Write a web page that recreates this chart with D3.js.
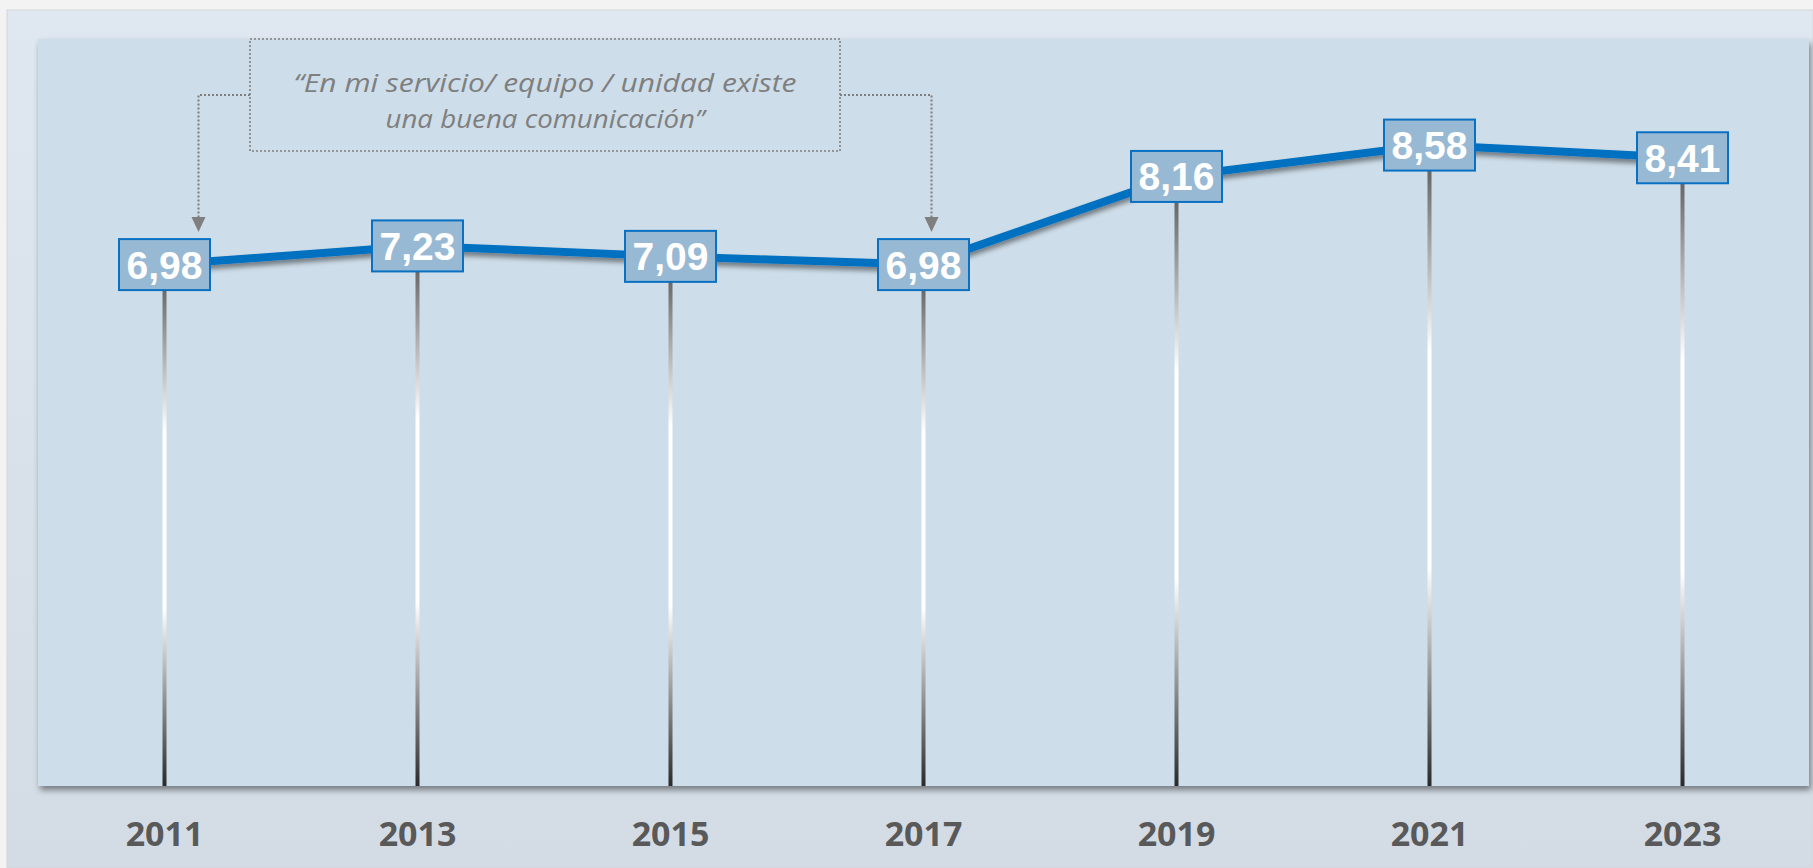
<!DOCTYPE html>
<html>
<head>
<meta charset="utf-8">
<script src="https://cdn.jsdelivr.net/npm/d3@7"></script>
<style>
  html, body { margin: 0; padding: 0; background: #f3f3f3; overflow: hidden; }
  svg { display: block; }
</style>
</head>
<body>
<svg id="chart"></svg>
<script>
// data
const years = ["2011", "2013", "2015", "2017", "2019", "2021", "2023"];
const values = [6.98, 7.23, 7.09, 6.98, 8.16, 8.58, 8.41];
const yDomain = [0, 10];
const quoteLines = ["\u201CEn mi servicio/ equipo / unidad existe", "una buena comunicaci\u00F3n\u201D"];
const arrowYears = ["2011", "2017"];

const W = 1813, H = 868;
const margin = { top: 39, left: 38, right: 4, bottom: 82 };
const width = W - margin.left - margin.right;
const height = H - margin.top - margin.bottom;

const comma = d3.formatLocale({ decimal: ",", thousands: ".", grouping: [3], currency: ["", "€"] }).format(".2f");

const svg = d3.select("#chart").attr("width", W).attr("height", H);
const defs = svg.append("defs");

// outer panel gradient
const panelGrad = defs.append("linearGradient").attr("id", "panelGrad")
    .attr("x1", 0).attr("y1", 0).attr("x2", 0).attr("y2", 1);
panelGrad.append("stop").attr("offset", 0).attr("stop-color", "#dfe8f1");
panelGrad.append("stop").attr("offset", 1).attr("stop-color", "#d3dce5");

// stem gradient (dark -> white -> dark)
const stemGrad = defs.append("linearGradient").attr("id", "stemGrad")
    .attr("x1", 0).attr("y1", 0).attr("x2", 0).attr("y2", 1);
[[0, "#4f4f4f"], [0.32, "#ffffff"], [0.66, "#ffffff"], [1, "#2a2a2a"]].forEach(s =>
  stemGrad.append("stop").attr("offset", s[0]).attr("stop-color", s[1]));

const plotShadow = defs.append("filter").attr("id", "plotShadow")
    .attr("x", "-5%").attr("y", "-5%").attr("width", "110%").attr("height", "115%");
plotShadow.append("feDropShadow").attr("dx", 2).attr("dy", 4).attr("stdDeviation", 3)
    .attr("flood-color", "#000").attr("flood-opacity", 0.45);

const lineShadow = defs.append("filter").attr("id", "lineShadow")
    .attr("x", "-5%").attr("y", "-20%").attr("width", "110%").attr("height", "160%");
lineShadow.append("feDropShadow").attr("dx", 0).attr("dy", 4).attr("stdDeviation", 2.5)
    .attr("flood-color", "#000").attr("flood-opacity", 0.45);

// backgrounds
svg.append("rect").attr("x", 7).attr("y", 10).attr("width", W - 7).attr("height", H - 10)
    .attr("fill", "url(#panelGrad)").attr("stroke", "#d6d6d6");

svg.append("rect")
    .attr("x", margin.left).attr("y", margin.top)
    .attr("width", width).attr("height", height)
    .attr("fill", "#cddde9")
    .attr("filter", "url(#plotShadow)");

const chart = svg.append("g").attr("transform", `translate(${margin.left},${margin.top})`);

// scales
const xScale = d3.scaleBand().domain(years).range([0, width]).padding(0);
const yScale = d3.scaleLinear().domain(yDomain).range([height, 0]);
const cx = d => xScale(d) + xScale.bandwidth() / 2;

const points = years.map((y, i) => ({ year: y, value: values[i] }));

// stems
chart.selectAll(".stem")
  .data(points)
  .join("rect")
    .attr("class", "stem")
    .attr("x", d => cx(d.year) - 2)
    .attr("y", d => yScale(d.value))
    .attr("width", 4)
    .attr("height", d => height - yScale(d.value))
    .attr("fill", "url(#stemGrad)");

// line
const line = d3.line().x(d => cx(d.year)).y(d => yScale(d.value));
chart.append("path")
    .datum(points)
    .attr("d", line)
    .attr("fill", "none")
    .attr("stroke", "#0070c0")
    .attr("stroke-width", 8)
    .attr("filter", "url(#lineShadow)");

// value boxes
const boxW = 91, boxH = 51;
const labels = chart.selectAll(".lbl")
  .data(points)
  .join("g")
    .attr("class", "lbl")
    .attr("transform", d => `translate(${cx(d.year)},${yScale(d.value)})`);

labels.append("rect")
    .attr("x", -boxW / 2).attr("y", -boxH / 2)
    .attr("width", boxW).attr("height", boxH)
    .attr("fill", "#98b9d4")
    .attr("stroke", "#0a70c2")
    .attr("stroke-width", 2);

labels.append("text")
    .attr("text-anchor", "middle")
    .attr("dy", "0.36em")
    .style("font-family", "'Liberation Sans', Arial, sans-serif")
    .style("font-weight", "bold")
    .style("font-size", "39px")
    .attr("fill", "#ffffff")
    .text(d => comma(d.value));

// x axis (year labels)
const xAxisG = chart.append("g")
    .attr("transform", `translate(0,${height})`)
    .call(d3.axisBottom(xScale).tickSize(0).tickPadding(0));
xAxisG.select(".domain").remove();
xAxisG.selectAll("text")
    .attr("y", 60)
    .attr("dy", 0)
    .style("font-family", "'Open Sans', sans-serif")
    .style("font-weight", "bold")
    .style("font-size", "34px")
    .attr("fill", "#595959");

// annotation box
const note = { x: 212, y: 0, w: 590, h: 112, join: 56 };
chart.append("rect")
    .attr("x", note.x).attr("y", note.y)
    .attr("width", note.w).attr("height", note.h)
    .attr("fill", "none")
    .attr("stroke", "#7f7f7f")
    .attr("stroke-width", 1.6)
    .attr("stroke-dasharray", "2,2");

const quoteWidths = [503, 319];
chart.selectAll(".quote")
  .data(quoteLines)
  .join("text")
    .attr("class", "quote")
    .attr("x", note.x + note.w / 2)
    .attr("y", (d, i) => 53 + i * 36)
    .attr("text-anchor", "middle")
    .attr("textLength", (d, i) => quoteWidths[i])
    .attr("lengthAdjust", "spacingAndGlyphs")
    .style("font-family", "'Open Sans', sans-serif")
    .style("font-style", "italic")
    .style("font-size", "26px")
    .attr("fill", "#7f7f7f")
    .text(d => d);

// dotted connectors with arrowheads
const arrowOffsets = [34, 8];
arrowYears.forEach((yr, i) => {
  const v = values[years.indexOf(yr)];
  const ax = cx(yr) + arrowOffsets[i];
  const tipY = yScale(v) - boxH / 2 - 7;
  const startX = i === 0 ? note.x : note.x + note.w;
  chart.append("path")
      .attr("d", `M${startX},${note.join}H${ax}V${tipY - 14}`)
      .attr("fill", "none")
      .attr("stroke", "#7f7f7f")
      .attr("stroke-width", 2)
      .attr("stroke-dasharray", "2,2");
  chart.append("path")
      .attr("d", `M${ax - 7},${tipY - 15}L${ax + 7},${tipY - 15}L${ax},${tipY}Z`)
      .attr("fill", "#7f7f7f");
});
</script>
</body>
</html>
